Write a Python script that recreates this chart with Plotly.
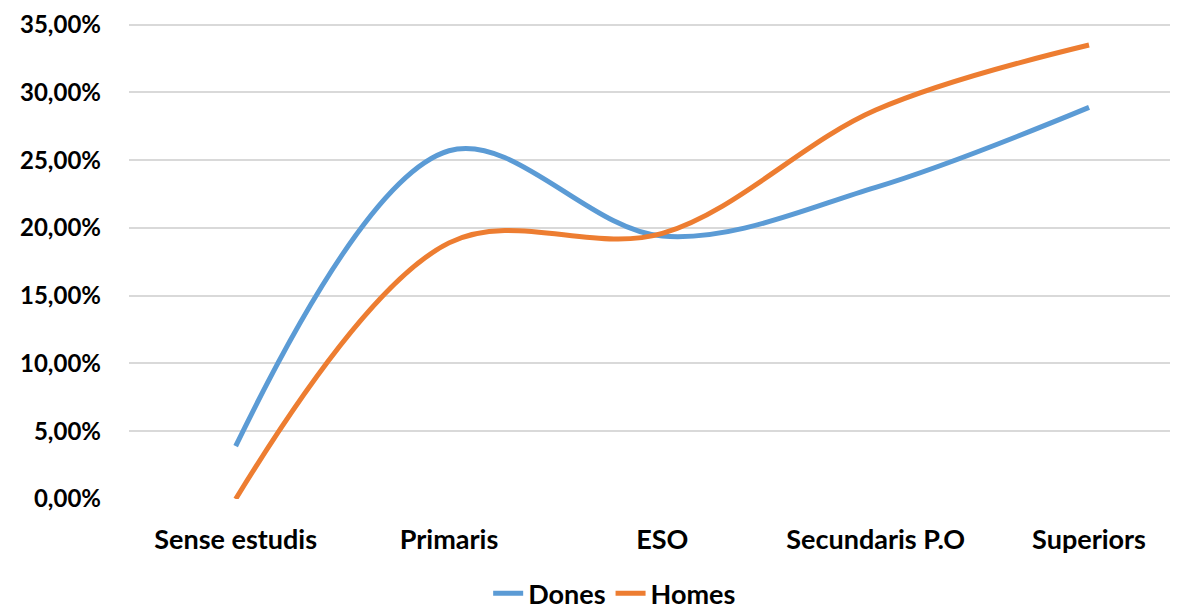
import plotly.graph_objects as go

categories = ["Sense estudis", "Primaris", "ESO", "Secundaris P.O", "Superiors"]
dones = [0.039, 0.257, 0.194, 0.230, 0.289]
homes = [0.000, 0.189, 0.196, 0.287, 0.335]
y_ticks = [0, 0.05, 0.10, 0.15, 0.20, 0.25, 0.30, 0.35]

FONT = "Lato, Carlito, 'Open Sans', sans-serif"

fig = go.Figure()
fig.add_trace(go.Scatter(x=list(range(len(categories))), y=dones, name="Dones",
                         mode="lines", line=dict(color="#5B9BD5", width=5, shape="spline", smoothing=1.0)))
fig.add_trace(go.Scatter(x=list(range(len(categories))), y=homes, name="Homes",
                         mode="lines", line=dict(color="#ED7D31", width=5, shape="spline", smoothing=1.0)))

fig.update_layout(
    width=1178, height=610,
    margin=dict(l=121, r=8, t=14, b=119, autoexpand=False),
    paper_bgcolor="white", plot_bgcolor="white",
    separators=",.",
    font=dict(family=FONT, size=24, color="black"),
    showlegend=True,
    legend=dict(orientation="h", xref="container", yref="container", x=0.515, y=0.04,
                xanchor="center", yanchor="middle",
                font=dict(family=FONT, size=27, color="black", weight="bold"),
                itemwidth=30, tracegroupgap=0),
    xaxis=dict(tickmode="array", tickvals=list(range(len(categories))), ticktext=categories,
               range=[-0.5, 4.417], showgrid=False, zeroline=False, showline=False,
               ticks="", ticklabelstandoff=22,
               tickfont=dict(family=FONT, size=27, color="black", weight="bold")),
    yaxis=dict(range=[0, 0.352], tickvals=y_ticks, tickformat=".2%",
               showgrid=True, gridcolor="#D9D9D9", gridwidth=1.5, zeroline=False,
               showline=False, ticks="", ticklabelstandoff=27, ticklabeloverflow="allow",
               tickfont=dict(family=FONT, size=24, color="black", weight="bold")),
)

fig.write_html("out.html")
